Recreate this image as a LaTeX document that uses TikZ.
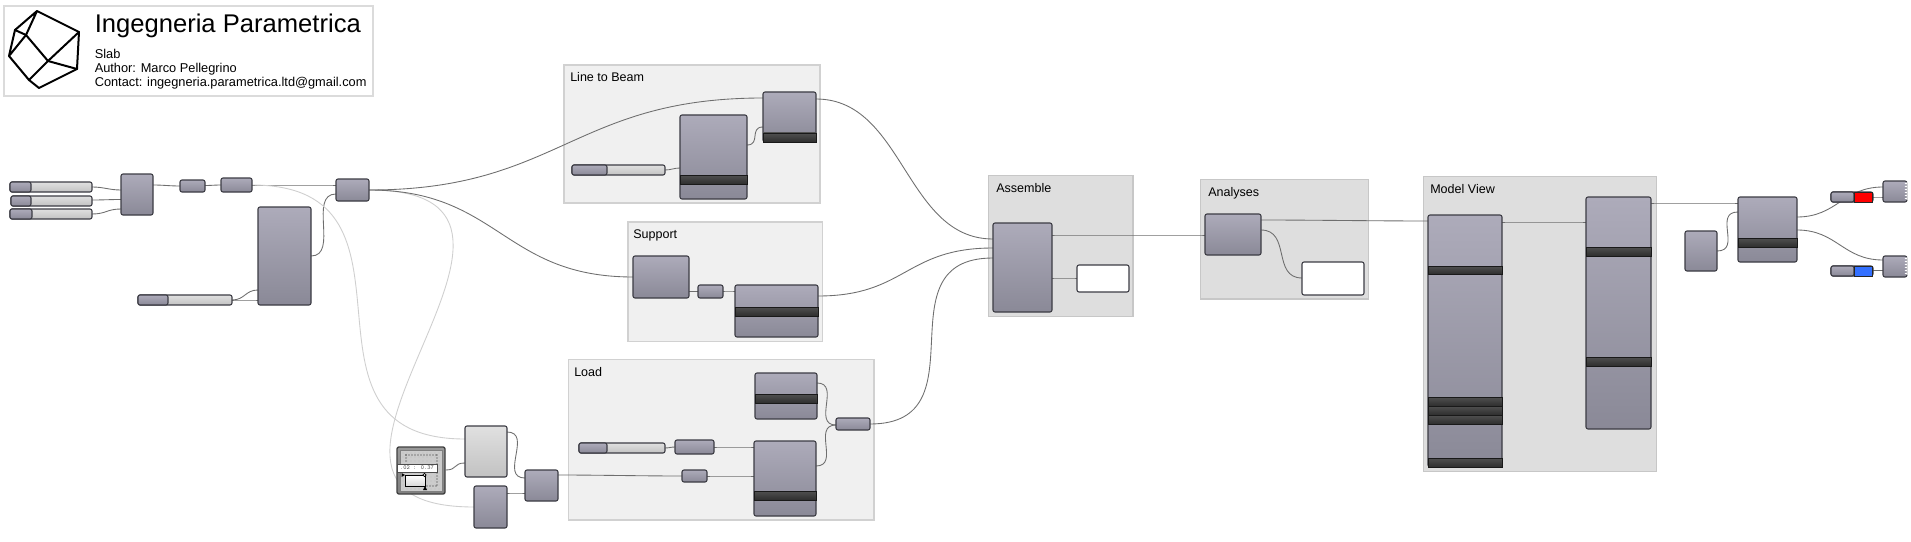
\documentclass[tikz,border=0pt]{standalone}
\usepackage{fontspec}
\setmainfont{Liberation Sans}
\usetikzlibrary{calc}
\pgfdeclarelayer{groups}
\pgfdeclarelayer{wires}
\pgfsetlayers{groups,wires,main}
\definecolor{ghtop}{HTML}{ADABBA}
\definecolor{ghbot}{HTML}{8A8997}
\definecolor{ghline}{HTML}{3C3C44}
\definecolor{bandtop}{HTML}{505050}
\definecolor{bandbot}{HTML}{2E2E2E}
\definecolor{wirec}{HTML}{6E6E6E}
\definecolor{wirel}{HTML}{CFCFCF}
\tikzset{
  x=0.75pt,y=-0.75pt,
  ghbase/.style={rectangle,inner sep=0pt,outer sep=0pt,rounded corners=1.5pt,line width=0.8pt,draw=ghline},
  ghbox/.style={ghbase,top color=ghtop,bottom color=ghbot},
  ghlight/.style={ghbase,top color=white!88!black,bottom color=white!76!black},
  ghwhite/.style={ghbase,fill=white},
  groupa/.style={rectangle,inner sep=0pt,line width=0.8pt,fill=white!94!black,draw=white!82!black},
  groupb/.style={rectangle,inner sep=0pt,line width=0.8pt,fill=white!87!black,draw=white!78!black},
  lbl/.style={anchor=base west,inner sep=0pt,font=\fontsize{9.4pt}{11pt}\selectfont,text=black},
  wire/.style={draw=wirec,line width=0.65pt},
  lwire/.style={draw=wirel,line width=0.65pt},
  logo/.style={line width=1.5pt,line join=round,line cap=round},
}
\newcommand\ghnode[6][ghbox]{\node[#1,minimum width={(#5-#3)*0.75pt},minimum height={(#6-#4)*0.75pt}] (#2) at ({(#3+#5)/2},{(#4+#6)/2}) {};}
\newcommand\band[3]{\shade[top color=bandtop,bottom color=bandbot,draw=black!90,line width=0.6pt] (#1.west |- 0,#2) rectangle (#1.east |- 0,#3);}
\newcommand\ghgroup[6]{\begin{pgfonlayer}{groups}\node[#1,minimum width={(#5-#3)*0.75pt},minimum height={(#6-#4)*0.75pt}] (#2) at ({(#3+#5)/2},{(#4+#6)/2}) {};\end{pgfonlayer}}
\newcommand\slider[6]{\ghnode[ghlight]{#1}{#2}{#3}{#4}{#5}\shade[top color=ghtop,bottom color=ghbot,draw=ghline,line width=0.8pt,rounded corners=1.5pt] (#2,#3) rectangle (#6,#5);}
\newcommand\wire[6][]{\begin{pgfonlayer}{wires}\draw[wire,#1] (#2.east |- 0,#3) .. controls +(#6,0) and +(-#6,0) .. (#4.west |- 0,#5);\end{pgfonlayer}}
\newcommand\jag[2]{\foreach \yy in {#2} {\fill[white] (#1+0.5,\yy) -- (#1-2.5,\yy+1.5) -- (#1+0.5,\yy+3) -- cycle;}}
\begin{document}
\begin{tikzpicture}
\useasboundingbox (0,0) rectangle (1911,542);
\begin{pgfonlayer}{groups}
\fill[white] (0,0) rectangle (1911,542);
\end{pgfonlayer}
% title block
\node[rectangle,inner sep=0pt,line width=0.8pt,fill=white,draw=white!86!black,minimum width={369*0.75pt},minimum height={90*0.75pt}] (frame) at (188.5,51) {};
\coordinate (lA) at (37,11); \coordinate (lB) at (79,32); \coordinate (lC) at (77,69);
\coordinate (lD) at (39,88); \coordinate (lE) at (29,80); \coordinate (lF) at (9,56);
\coordinate (lG) at (15,30); \coordinate (lH) at (26,35); \coordinate (lI) at (48,61);
\draw[logo] (lA) -- (lB) -- (lC) -- (lD) -- (lE) -- (lF) -- (lG) -- (lA) -- (lH) -- (lF);
\draw[logo] (lG) -- (lH) -- (lI) -- (lB);
\draw[logo] (lC) -- (lI) -- (lE);
\node[anchor=base west,inner sep=0pt,font=\fontsize{19.2pt}{20pt}\selectfont] (ttl) at (94.5,33) {Ingegneria Parametrica};
\node[anchor=base west,inner sep=0pt,font=\fontsize{9.6pt}{11pt}\selectfont] (t1) at (94.5,59) {Slab};
\node[anchor=base west,inner sep=0pt,font=\fontsize{9.6pt}{11pt}\selectfont] (t2) at (94.5,72.7) {Author: Marco Pellegrino};
\node[anchor=base west,inner sep=0pt,font=\fontsize{9.6pt}{11pt}\selectfont] (t3) at (94.5,86.2) {Contact: ingegneria.parametrica.ltd@gmail.com};
% groups
\ghgroup{groupa}{gLine}{564}{65}{820}{203}
\ghgroup{groupa}{gSupp}{628}{222}{822.5}{341.5}
\ghgroup{groupa}{gLoad}{568.5}{359.5}{874}{520}
\ghgroup{groupb}{gAsm}{988.5}{175.5}{1133}{316.5}
\ghgroup{groupb}{gAna}{1200.5}{179.5}{1368.5}{299}
\ghgroup{groupb}{gMod}{1423.5}{176.5}{1656.5}{471.5}
\begin{pgfonlayer}{groups}
\node[lbl] (lLine) at (570,82) {Line to Beam};
\node[lbl] (lSupp) at (633,238) {Support};
\node[lbl] (lLoad) at (574,376) {Load};
\node[lbl] (lAsm) at (996,192) {Assemble};
\node[lbl] (lAna) at (1208,196) {Analyses};
\node[lbl] (lMod) at (1430,193) {Model View};
\end{pgfonlayer}
% left part
\slider{s1}{10}{182}{92}{192}{31}
\slider{s2}{11}{196}{92}{206}{31}
\slider{s3}{10}{209}{92}{219}{32}
\ghnode{a}{121}{174}{153}{215}
\ghnode{b}{180}{180}{205}{192}
\ghnode{c}{221}{178}{252}{192}
\ghnode{d}{336}{179}{369}{201}
\ghnode{e}{258}{207}{311}{305}
\slider{s4}{138}{295}{232}{305}{168}
% line to beam
\ghnode{f}{680}{115}{747}{199}\band{f}{175}{184}
\ghnode{g}{763}{92}{816}{142}\band{g}{133}{142}
\slider{s5}{572}{165}{665}{175}{607}
% support
\ghnode{h}{633}{256}{689}{298}
\ghnode{i}{698}{285}{723}{298}
\ghnode{j}{735}{285}{818}{337}\band{j}{307}{316}
% load
\ghnode{k}{755}{373}{817}{419}\band{k}{394}{403}
\slider{s6}{579}{443}{665}{453}{607}
\ghnode{m}{675}{440}{714}{454}
\ghnode{n}{682}{470}{707}{482}
\ghnode{o}{754}{441}{816}{516}\band{o}{491}{500}
\ghnode{p}{836}{418}{870}{430}
\ghnode[ghlight]{q}{465}{426}{507}{477}
\ghnode{r}{474}{486}{507}{528}
\ghnode{t}{525}{470}{558}{501}
% graph mapper
\node[rectangle,inner sep=0pt,rounded corners=1.5pt,line width=1pt,draw=black!75,top color=black!40,bottom color=black!50,minimum width={48*0.75pt},minimum height={47*0.75pt}] (mapper) at (421,470.5) {};
\fill[white!80!black,draw=black!50,line width=0.4pt] (400,450) rectangle (442,491);
\foreach \gx in {403,407,...,439} \foreach \gy in {453,457,...,489} {\fill[black!35] (\gx,\gy) circle (0.35);}
\foreach \gx in {406,409,...,437} {\fill[black!85] (\gx,455) circle (0.6); \fill[black!85] (\gx,486) circle (0.6);}
\foreach \gy in {455,458,...,486} {\fill[black!85] (437,\gy) circle (0.6);}
\foreach \gy in {455,458,461} {\fill[black!85] (406,\gy) circle (0.6);}
\shade[top color=white,bottom color=white!85!black] (406,475) rectangle (425,486);
\draw[black,line width=0.7pt] (405,475) -- (425,475) -- (425,486) -- (405,486) -- cycle;
\fill[black] (401.5,473) -- (405,475) -- (401.5,477) -- cycle;
\fill[black] (423,490) -- (425,486) -- (427,490) -- cycle;
\draw[black,fill=white,line width=0.5pt] (424.5,475) circle (1.6);
\node[rectangle,inner sep=0pt,fill=white,draw=black!70,line width=0.5pt,minimum width={40*0.75pt},minimum height={8*0.75pt},font=\ttfamily\fontsize{4.6pt}{5pt}\selectfont,text=black!70] (mlabel) at (417,468) {.02 : 0.37};
% assemble, analyses
\ghnode{u}{993}{223}{1052}{312}
\ghnode[ghwhite]{v}{1077}{265}{1129}{292}
\ghnode{w}{1205}{214}{1261}{255}
\ghnode[ghwhite]{xx}{1302}{262}{1364}{295}
% model view
\ghnode{yy}{1428}{215}{1502}{467}
\band{yy}{266}{274}\band{yy}{397}{406}\band{yy}{406}{415}\band{yy}{415}{424}\band{yy}{458}{467}
\ghnode{z}{1586}{197}{1651}{429}
\band{z}{247}{256}\band{z}{357}{366}
% right
\ghnode{aa}{1738}{197}{1797}{262}\band{aa}{238}{247}
\ghnode{bb}{1685}{231}{1717}{271}
\slider{sr}{1831}{192}{1873}{202}{1854}
\draw[draw=black!85,fill=red,line width=0.7pt] (1854,192) rectangle (1872.5,202);
\slider{sl}{1831}{266}{1873}{276}{1854}
\draw[draw=black!85,fill=blue!70!cyan!80!white,line width=0.7pt] (1854,266) rectangle (1872.5,276);
\ghnode{e1}{1883}{181}{1907}{202}
\ghnode{e2}{1883}{256}{1907}{277}
\jag{1907}{182,185,...,199}
\jag{1907}{257,260,...,274}
% wires
\wire{s1}{187}{a}{190}{12}
\wire{s2}{200}{a}{199.5}{12}
\wire{s3}{214}{a}{209}{14}
\wire{a}{185}{b}{186}{10}
\wire{b}{185.5}{c}{185}{6}
\wire{c}{185}{d}{185}{30}
\wire{e}{256}{d}{194}{28}
\wire{s4}{300}{e}{290}{13}
\wire{s4}{300}{e}{300}{8}
\wire[lwire]{c}{185}{q}{439}{190}
\wire[lwire]{d}{190}{r}{507}{240}
\wire{d}{190}{g}{98}{190}
\wire{d}{190}{h}{277}{130}
\wire{f}{145}{g}{127}{14}
\wire{s5}{170}{f}{168}{6}
\wire{g}{99}{u}{239}{88}
\wire{j}{296}{u}{248}{88}
\wire{h}{291}{i}{291}{4}
\wire{i}{291}{j}{291}{5}
\wire{p}{424}{u}{258}{115}
\wire{k}{383}{p}{425}{24}
\wire{o}{466}{p}{425}{24}
\wire{s6}{448}{m}{447}{4}
\wire{m}{447}{o}{447}{15}
\wire{n}{476}{o}{476}{15}
\wire{t}{475}{n}{476}{40}
\wire{q}{432}{t}{478}{26}
\wire{r}{493}{t}{493}{6}
\wire{mapper}{470}{q}{463}{12}
\wire{u}{235}{w}{235}{50}
\wire{u}{278}{v}{278}{8}
\wire{w}{220}{yy}{221}{50}
\wire{w}{230}{xx}{278}{30}
\wire{yy}{222}{z}{222}{30}
\wire{z}{203}{aa}{203}{30}
\wire{bb}{251}{aa}{212}{25}
\wire{aa}{217}{e1}{187}{40}
\wire{sr}{197}{e1}{197}{3}
\wire{aa}{230}{e2}{260}{40}
\wire{sl}{270.5}{e2}{270.5}{3}
\end{tikzpicture}
\end{document}
